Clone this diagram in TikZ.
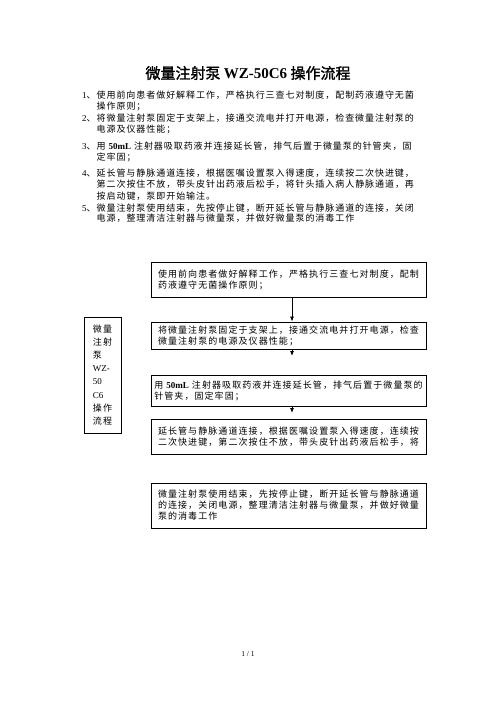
\documentclass[tikz,border=0pt]{standalone}
\usepackage{fontspec}
\setmainfont{Liberation Serif}
\newfontfamily\cjklist[LetterSpace=10.5]{Noto Sans CJK SC}
\newfontfamily\cjkbox[LetterSpace=12]{Noto Sans CJK SC}
\newfontfamily\cjkhead[FakeBold=1.5]{Noto Sans CJK SC}
\usetikzlibrary{arrows.meta}
\newcommand{\latn}[1]{{\rmfamily #1}}
\newcommand{\latb}[1]{{\rmfamily\bfseries #1}}
\tikzset{
  listline/.style={anchor=west, inner sep=0pt, text height=7pt, text depth=0pt,
    font=\cjklist\fontsize{9}{11}\selectfont},
  stepbox/.style={draw, line width=0.9pt, minimum width=275pt, inner xsep=3pt,
    align=left, font=\cjkbox\fontsize{9}{11}\selectfont},
  sidebox/.style={draw, line width=0.9pt, minimum width=37pt, minimum height=116pt,
    align=left, font=\cjkbox\fontsize{9}{13.1}\selectfont},
  flow/.style={line width=0.8pt, -{Latex[length=5pt,width=4pt]}},
}
\begin{document}
\begin{tikzpicture}[x=1pt,y=-1pt]
  \path[fill=white, use as bounding box] (0,0) rectangle (496,702);
  % title
  \node[font=\cjkhead\fontsize{15}{17}\selectfont] (title) at (248,73)
    {微量注射泵 \latb{WZ-50C6} 操作流程};
  % numbered list
  \node[listline] (l1a) at (82,95) {\latn{1}、使用前向患者做好解释工作，严格执行三查七对制度，配制药液遵守无菌};
  \node[listline] (l1b) at (96.5,106) {操作原则；};
  \node[listline] (l2a) at (82,117.5) {\latn{2}、将微量注射泵固定于支架上，接通交流电并打开电源，检查微量注射泵的};
  \node[listline] (l2b) at (96.5,128.5) {电源及仪器性能；};
  \node[listline] (l3a) at (82,146) {\latn{3}、用 \latb{50mL} 注射器吸取药液并连接延长管，排气后置于微量泵的针管夹，固};
  \node[listline] (l3b) at (96.5,157) {定牢固；};
  \node[listline] (l4a) at (82,172.5) {\latn{4}、延长管与静脉通道连接，根据医嘱设置泵入得速度，连续按二次快进键，};
  \node[listline] (l4b) at (96.5,184) {第二次按住不放，带头皮针出药液后松手，将针头插入病人静脉通道，再};
  \node[listline] (l4c) at (96.5,195.5) {按启动键，泵即开始输注。};
  \node[listline] (l5a) at (82,207.5) {\latn{5}、微量注射泵使用结束，先按停止键，断开延长管与静脉通道的连接，关闭};
  \node[listline] (l5b) at (96.5,218) {电源，整理清洁注射器与微量泵，并做好微量泵的消毒工作};
  % flow chart
  \node[stepbox, minimum height=35pt] (s1) at (288.5,279.5)
    {使用前向患者做好解释工作，严格执行三查七对制度，配制\\药液遵守无菌操作原则；};
  \node[stepbox, minimum height=27pt] (s2) at (288.5,335.5)
    {将微量注射泵固定于支架上，接通交流电并打开电源，检查\\微量注射泵的电源及仪器性能；};
  \node[stepbox, minimum height=31pt] (s3) at (288.5,390.5)
    {用 \latb{50mL} 注射器吸取药液并连接延长管，排气后置于微量泵的\\针管夹，固定牢固；};
  \node[stepbox, minimum height=35pt] (s4) at (288.5,436.5)
    {延长管与静脉通道连接，根据医嘱设置泵入得速度，连续按\\二次快进键，第二次按住不放，带头皮针出药液后松手，将};
  \node[stepbox, minimum height=45pt] (s5) at (288.5,505.5)
    {微量注射泵使用结束，先按停止键，断开延长管与静脉通道\\的连接，关闭电源，整理清洁注射器与微量泵，并做好微量\\泵的消毒工作};
  \node[sidebox] (side) at (102.5,375)
    {微量\\注射\\泵\\\latn{WZ-}\\\latn{50}\\\latn{C6}\\操作\\流程};
  \coordinate (ax) at (292,0);
  \coordinate (t2) at (292,356);
  \coordinate (t3) at (292,413);
  \draw[flow] (s1.south -| ax) -- (s2.north -| ax);
  \draw[flow] (s2.south -| ax) -- (t2);
  \draw[flow] (s3.south -| ax) -- (t3);
  % page number
  \node[font=\fontsize{7.5}{9}\selectfont] (page) at (248,654) {1 / 1};
\end{tikzpicture}
\end{document}
